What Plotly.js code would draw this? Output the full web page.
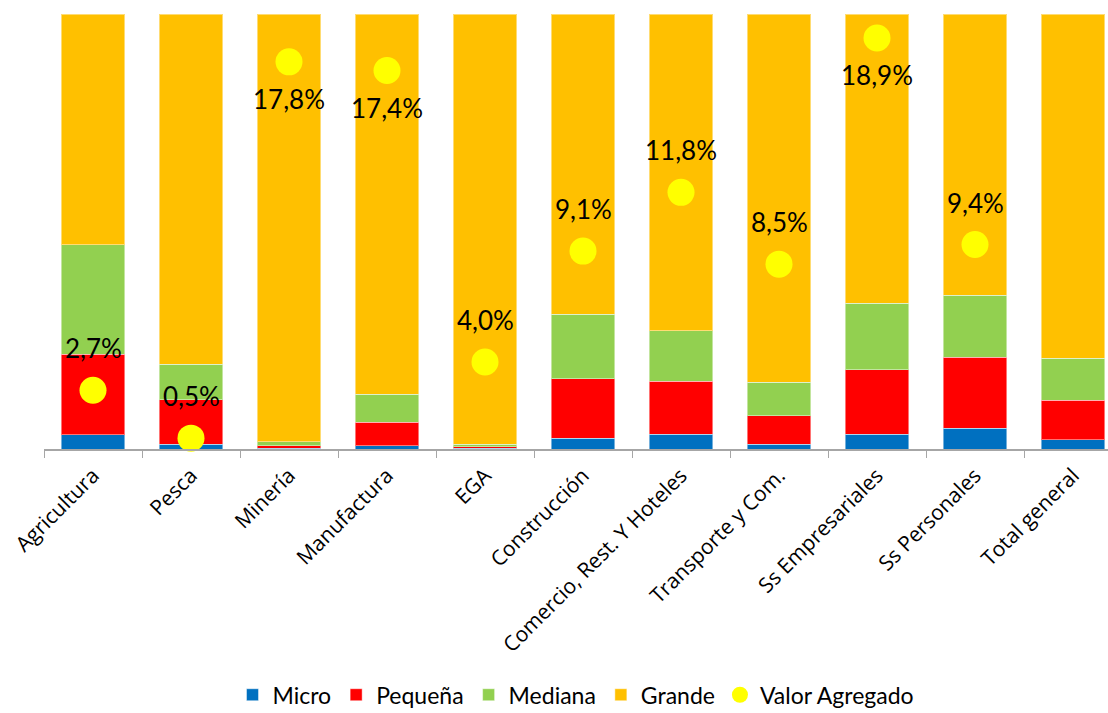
<!DOCTYPE html>
<html>
<head>
<meta charset="utf-8">
<script src="https://cdn.plot.ly/plotly-3.0.1.min.js"></script>
<style>html,body{margin:0;padding:0;background:#fff;}#chart{width:1108px;height:713px;}</style>
</head>
<body>
<div id="chart"></div>
<script>
const categories = ["Agricultura","Pesca","Minería","Manufactura","EGA","Construcción","Comercio, Rest. Y Hoteles","Transporte y Com.","Ss Empresariales","Ss Personales","Total general"];
const micro   = [3.3, 1.1, 0.2, 0.7, 0.2, 2.5, 3.4, 1.1, 3.4, 4.8, 2.1];
const pequena = [18.5, 10.2, 0.6, 5.5, 0.3, 13.6, 12.2, 6.6, 14.8, 16.3, 9.1];
const mediana = [25.1, 8.2, 0.9, 6.4, 0.6, 14.9, 11.6, 7.6, 15.3, 14.3, 9.7];
const grande  = [53.1, 80.5, 98.3, 87.4, 98.9, 69.0, 72.8, 84.7, 66.5, 64.6, 79.1];
const valorAgregado = [2.7, 0.5, 17.8, 17.4, 4.0, 9.1, 11.8, 8.5, 18.9, 9.4, null];

const fontMain = "'Open Sans', 'DejaVu Sans', sans-serif";
const fontNarrow = "Lato, 'DejaVu Sans', sans-serif";

function barTrace(name, vals, color){
  return {type:'bar', name:name, x:categories, y:vals, marker:{color:color, line:{color:'rgba(255,255,255,0.45)', width:1}}, hoverinfo:'name+y'};
}
const traces = [
  barTrace('Micro', micro, '#0070C0'),
  barTrace('Pequeña', pequena, '#FF0000'),
  barTrace('Mediana', mediana, '#92D050'),
  barTrace('Grande', grande, '#FFC000'),
  {type:'scatter', mode:'markers', name:'Valor Agregado', x:categories, y:valorAgregado, yaxis:'y2',
   marker:{color:'#FFFF00', size:27}, cliponaxis:false}
];

const annotations = [];
valorAgregado.forEach((v,i)=>{
  if(v===null) return;
  const below = v > 15;
  annotations.push({x:categories[i], y:v, xref:'x', yref:'y2', text:v.toFixed(1).replace('.',',')+'%',
    showarrow:false, yshift: below ? -37 : 42, font:{family:fontNarrow, size:26, color:'#000'}});
});

const layout = {
  width:1108, height:713,
  margin:{l:44, r:0, t:14, b:264, autoexpand:false},
  paper_bgcolor:'#fff', plot_bgcolor:'#fff',
  barmode:'stack', bargap:0.35,
  showlegend:true,
  legend:{orientation:'h', x:0.5, xanchor:'center', y:-0.565, yanchor:'middle', traceorder:'normal',
    font:{family:fontNarrow, size:23, color:'#000'}, itemwidth:30},
  xaxis:{type:'category', range:[-0.5, 10.357], tickangle:-45, tickson:'boundaries', ticks:'outside', ticklen:7,
    tickcolor:'#A6A6A6', showline:true, linecolor:'#A6A6A6', linewidth:2, showgrid:false, automargin:false,
    ticklabelstandoff:4,
    tickfont:{family:fontMain, size:21, color:'#000'}, fixedrange:true},
  yaxis:{range:[0,100], visible:false, showgrid:false, zeroline:false, automargin:false},
  yaxis2:{range:[0,20], overlaying:'y', side:'right', visible:false, showgrid:false, zeroline:false, automargin:false},
  annotations:annotations
};
Plotly.newPlot('chart', traces, layout, {displayModeBar:false, staticPlot:true});
</script>
</body>
</html>
